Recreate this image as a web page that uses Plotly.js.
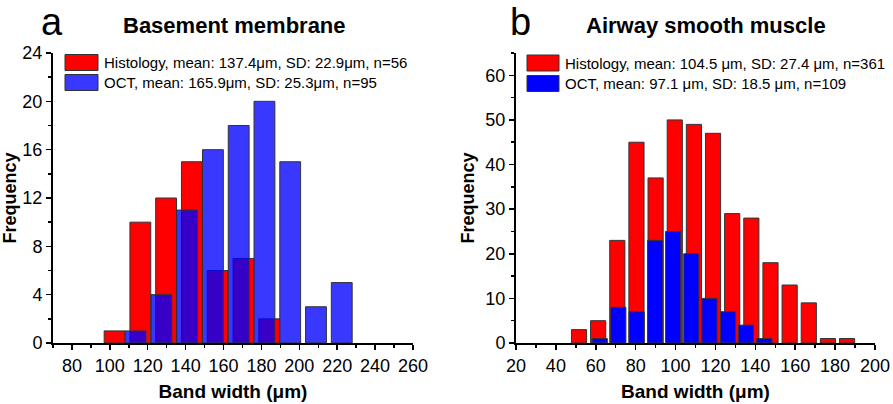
<!DOCTYPE html>
<html>
<head>
<meta charset="utf-8">
<script src="https://cdn.plot.ly/plotly-3.0.1.min.js"></script>
<style>html,body{margin:0;padding:0;background:#fff;}#chart{width:893px;height:404px;}</style>
</head>
<body>
<div id="chart"></div>
<script>
// Panel a: Basement membrane
const aHistX = [102.5, 116.1, 129.7, 143.3, 156.9, 170.5, 184.1];
const aHistY = [1, 10, 12, 15, 6, 7, 2];
const aOctX = [113.6, 127.2, 140.8, 154.4, 168.0, 181.6, 195.2, 208.8, 222.4];
const aOctY = [1, 4, 11, 16, 18, 20, 15, 3, 5];
const aLegend = ["Histology, mean: 137.4\u03bcm, SD: 22.9\u03bcm, n=56", "OCT, mean: 165.9\u03bcm, SD: 25.3\u03bcm, n=95"];
// Panel b: Airway smooth muscle
const bHistX = [51.6, 61.2, 70.8, 80.4, 90.0, 99.6, 109.2, 118.8, 128.4, 138.0, 147.6, 157.2, 166.8, 176.4, 186.0];
const bHistY = [3, 5, 23, 45, 37, 50, 49, 47, 29, 28, 18, 13, 9, 1, 1];
const bOctX = [62.0, 71.3, 80.5, 89.8, 98.8, 107.9, 117.0, 126.3, 135.3, 144.5];
const bOctY = [1, 8, 7, 23, 25, 20, 10, 7, 4, 1];
const bLegend = ["Histology, mean: 104.5 \u03bcm, SD: 27.4 \u03bcm, n=361", "OCT, mean: 97.1 \u03bcm, SD: 18.5 \u03bcm, n=109"];
const aXTicks = [80, 100, 120, 140, 160, 180, 200, 220, 240, 260];
const aYTicks = [0, 4, 8, 12, 16, 20, 24];
const bXTicks = [20, 40, 60, 80, 100, 120, 140, 160, 180, 200];
const bYTicks = [0, 10, 20, 30, 40, 50, 60];

const FONT = "Liberation Sans, Arial, sans-serif";
const RED = "#ff0000";
const BLUE_T = "rgba(0,0,255,0.78)";
const BLUE = "#0000ff";
const EDGE = {color: "#333333", width: 1};

const traces = [
  {type: "bar", x: aHistX, y: aHistY, width: 11, marker: {color: RED, line: EDGE}, xaxis: "x", yaxis: "y", name: aLegend[0]},
  {type: "bar", x: aOctX, y: aOctY, width: 11, marker: {color: BLUE_T, line: EDGE}, xaxis: "x", yaxis: "y", name: aLegend[1]},
  {type: "bar", x: bHistX, y: bHistY, width: 7.6, marker: {color: RED, line: EDGE}, xaxis: "x2", yaxis: "y2", name: bLegend[0]},
  {type: "bar", x: bOctX, y: bOctY, width: 7.6, marker: {color: BLUE, line: EDGE}, xaxis: "x2", yaxis: "y2", name: bLegend[1]}
];

function xax(domain, range, ticks, minor, anchor) {
  return {domain: domain, range: range, tickvals: ticks, ticktext: ticks.map(String),
    showline: true, linecolor: "#000", linewidth: 2, ticks: "outside", ticklen: 5, tickwidth: 1.5, tickcolor: "#000",
    minor: {dtick: minor, tick0: 0, ticks: "outside", ticklen: 3, tickwidth: 1.5, tickcolor: "#000", showgrid: false},
    showgrid: false, zeroline: false, anchor: anchor, fixedrange: true,
    tickfont: {family: FONT, size: 18, color: "#000"},
    title: {text: "Band width (\u03bcm)", font: {family: FONT, size: 19, color: "#000", weight: "bold"}, standoff: 10}};
}
function yax(domain, range, ticks, minor, anchor) {
  return {domain: domain, range: range, tickvals: ticks, ticktext: ticks.map(String),
    showline: true, linecolor: "#000", linewidth: 2, ticks: "outside", ticklen: 5, tickwidth: 1.5, tickcolor: "#000",
    minor: {dtick: minor, tick0: 0, ticks: "outside", ticklen: 3, tickwidth: 1.5, tickcolor: "#000", showgrid: false},
    showgrid: false, zeroline: false, anchor: anchor, fixedrange: true,
    tickfont: {family: FONT, size: 18, color: "#000"},
    title: {text: "Frequency", font: {family: FONT, size: 18, color: "#000", weight: "bold"}, standoff: 6}};
}

const W = 893, H = 404;
const px = v => v / W, py = v => 1 - v / H;

function legendItems(x0, x1, ys, colors, texts, tx) {
  const shapes = [], anns = [];
  ys.forEach((yc, i) => {
    shapes.push({type: "rect", xref: "paper", yref: "paper", x0: px(x0), x1: px(x1), y0: py(yc + 8), y1: py(yc - 8),
      fillcolor: colors[i], line: {color: "#333", width: 1}});
    anns.push({xref: "paper", yref: "paper", x: px(tx), y: py(yc), xanchor: "left", yanchor: "middle", showarrow: false,
      text: texts[i], font: {family: FONT, size: 15, color: "#000"}});
  });
  return {shapes, anns};
}
const la = legendItems(65, 98, [62.5, 82.5], [RED, BLUE_T], aLegend, 102);
const lb = legendItems(527, 559, [63, 83.5], [RED, BLUE], bLegend, 563);

const layout = {
  width: W, height: H, margin: {l: 0, r: 0, t: 0, b: 0},
  paper_bgcolor: "#fff", plot_bgcolor: "rgba(0,0,0,0)",
  barmode: "overlay", showlegend: false,
  font: {family: FONT, color: "#000"},
  xaxis: xax([px(53), px(413)], [70, 260], aXTicks, 10, "y"),
  yaxis: yax([py(343), py(53)], [0, 24], aYTicks, 2, "x"),
  xaxis2: xax([px(516), px(875)], [20, 200], bXTicks, 10, "y2"),
  yaxis2: yax([py(343), py(53)], [0, 65], bYTicks, 5, "x2"),
  shapes: la.shapes.concat(lb.shapes),
  annotations: [
    {xref: "paper", yref: "paper", x: px(52), y: 1, text: "a", showarrow: false, xanchor: "center", yanchor: "top", borderpad: 0, font: {family: FONT, size: 38, color: "#000"}},
    {xref: "paper", yref: "paper", x: px(234), y: py(25), text: "<b>Basement membrane</b>", showarrow: false, xanchor: "center", yanchor: "middle", font: {family: FONT, size: 22, color: "#000"}},
    {xref: "paper", yref: "paper", x: px(520), y: 1, text: "b", showarrow: false, xanchor: "center", yanchor: "top", borderpad: 0, font: {family: FONT, size: 38, color: "#000"}},
    {xref: "paper", yref: "paper", x: px(706), y: py(25), text: "<b>Airway smooth muscle</b>", showarrow: false, xanchor: "center", yanchor: "middle", font: {family: FONT, size: 22, color: "#000"}}
  ].concat(la.anns, lb.anns)
};

Plotly.newPlot("chart", traces, layout, {displayModeBar: false, staticPlot: true});
</script>
</body>
</html>
